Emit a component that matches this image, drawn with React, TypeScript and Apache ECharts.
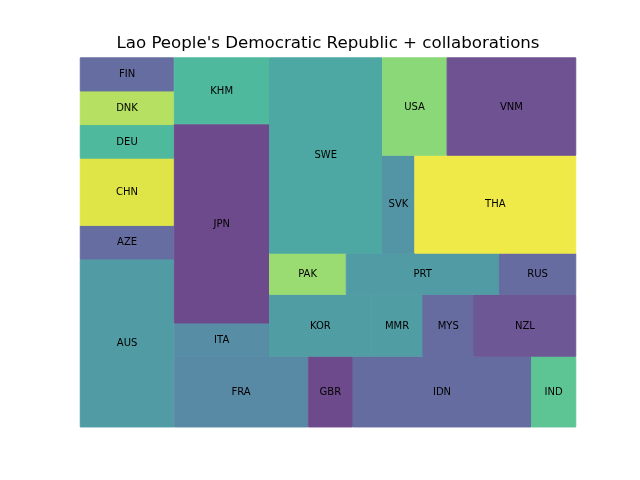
import React, { useEffect, useRef } from "react";
import * as echarts from "echarts";

const title = "Lao People's Democratic Republic + collaborations";
const categories = ["AUS", "AZE", "CHN", "DEU", "DNK", "FIN", "FRA", "GBR", "IDN", "IND", "ITA", "JPN", "KHM", "KOR", "MMR", "MYS", "NZL", "PAK", "PRT", "RUS", "SWE", "SVK", "THA", "USA", "VNM"];
const values = [5, 1, 2, 1, 1, 1, 3, 1, 4, 1, 1, 6, 2, 2, 1, 1, 2, 1, 2, 1, 7, 1, 5, 2, 4];
const colors = ["#519ba5", "#656da1", "#e0e547", "#4eb99d", "#b5e061", "#656da1", "#5889a5", "#6d4a8b", "#656ca0", "#5dc594", "#578da5", "#6d4a8b", "#4eb99d", "#519da4", "#519da4", "#666ca0", "#6d5795", "#9adb72", "#519ba5", "#666ba0", "#4da8a3", "#5495a5", "#f0ea49", "#8bd879", "#6e5292"];

type R = { x: number; y: number; dx: number; dy: number };

function layoutRow(sizes: number[], x: number, y: number, dx: number, dy: number): R[] {
  const area = sizes.reduce((a, b) => a + b, 0);
  const width = area / dy;
  const out: R[] = [];
  for (const s of sizes) {
    out.push({ x, y, dx: width, dy: s / width });
    y += s / width;
  }
  return out;
}
function layoutCol(sizes: number[], x: number, y: number, dx: number, dy: number): R[] {
  const area = sizes.reduce((a, b) => a + b, 0);
  const height = area / dx;
  const out: R[] = [];
  for (const s of sizes) {
    out.push({ x, y, dx: s / height, dy: height });
    x += s / height;
  }
  return out;
}
function layout(sizes: number[], x: number, y: number, dx: number, dy: number): R[] {
  return dx >= dy ? layoutRow(sizes, x, y, dx, dy) : layoutCol(sizes, x, y, dx, dy);
}
function leftover(sizes: number[], x: number, y: number, dx: number, dy: number): [number, number, number, number] {
  const area = sizes.reduce((a, b) => a + b, 0);
  if (dx >= dy) {
    const w = area / dy;
    return [x + w, y, dx - w, dy];
  }
  const h = area / dx;
  return [x, y + h, dx, dy - h];
}
function worst(sizes: number[], x: number, y: number, dx: number, dy: number): number {
  return Math.max(...layout(sizes, x, y, dx, dy).map((r) => Math.max(r.dx / r.dy, r.dy / r.dx)));
}
function squarify(sizes: number[], x: number, y: number, dx: number, dy: number): R[] {
  if (sizes.length === 0) return [];
  if (sizes.length === 1) return layout(sizes, x, y, dx, dy);
  let i = 1;
  while (i < sizes.length && worst(sizes.slice(0, i), x, y, dx, dy) >= worst(sizes.slice(0, i + 1), x, y, dx, dy)) i++;
  const cur = sizes.slice(0, i);
  const rem = sizes.slice(i);
  const [lx, ly, ldx, ldy] = leftover(cur, x, y, dx, dy);
  return layout(cur, x, y, dx, dy).concat(squarify(rem, lx, ly, ldx, ldy));
}

export default function App() {
  const ref = useRef<HTMLDivElement>(null);
  useEffect(() => {
    if (!ref.current) return;
    const chart = echarts.init(ref.current, undefined, { renderer: "svg" });
    const total = values.reduce((a, b) => a + b, 0);
    const norm = values.map((v) => (v * 100 * 100) / total);
    const rects = squarify(norm, 0, 0, 100, 100);
    const data = rects.map((r, i) => ({ name: categories[i], value: [r.x, r.y, r.dx, r.dy] }));
    chart.setOption({
      animation: false,
      grid: { left: 80, right: 64, top: 57.6, bottom: 52.8 },
      xAxis: { type: "value", min: 0, max: 100, show: false },
      yAxis: { type: "value", min: 0, max: 100, show: false },
      graphic: [
        {
          type: "text",
          x: 328,
          y: 42.8,
          style: { text: title, fill: "#000", font: '16.67px "DejaVu Sans"', align: "center", verticalAlign: "middle" },
        },
      ],
      series: [
        {
          type: "custom",
          data,
          renderItem: (params: any, api: any) => {
            const x = api.value(0), y = api.value(1), w = api.value(2), h = api.value(3);
            const tl = api.coord([x, y + h]);
            const br = api.coord([x + w, y]);
            const idx = params.dataIndex;
            return {
              type: "group",
              children: [
                {
                  type: "rect",
                  shape: { x: tl[0] + 0.25, y: tl[1] + 0.25, width: br[0] - tl[0] - 0.5, height: br[1] - tl[1] - 0.5 },
                  style: { fill: colors[idx], stroke: colors[idx], lineWidth: 1 },
                },
                {
                  type: "text",
                  x: (tl[0] + br[0]) / 2,
                  y: (tl[1] + br[1]) / 2 - 0.5,
                  style: { text: categories[idx], fill: "#000", font: '10px "DejaVu Sans"', align: "center", verticalAlign: "middle" },
                },
              ],
            };
          },
        },
      ],
    });
    return () => chart.dispose();
  }, []);
  return <div ref={ref} style={{ position: "fixed", left: 0, top: 0, width: 640, height: 480 }} />;
}
